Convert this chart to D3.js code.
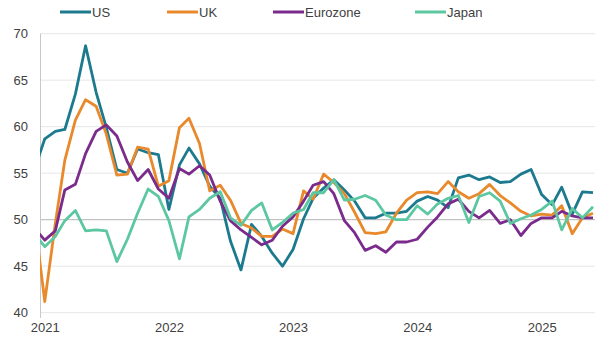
<!DOCTYPE html>
<html>
<head>
<meta charset="utf-8">
<script src="https://cdn.jsdelivr.net/npm/d3@7"></script>
<style>
  body { margin: 0; background: #fff; }
  svg { display: block; font-family: "Liberation Sans", Arial, sans-serif; }
</style>
</head>
<body>
<div id="chart"></div>
<script>
// monthly composite PMI, Dec 2020 .. Jun 2025
var startMonth = "2020-12";
var US = [55.3,
  58.7, 59.5, 59.7, 63.5, 68.7, 63.7, 59.9, 55.4, 55.0, 57.6, 57.2, 57.0,
  51.1, 55.9, 57.7, 56.0, 53.6, 52.3, 47.7, 44.6, 49.5, 48.2, 46.4, 45.0,
  46.8, 50.1, 52.3, 53.4, 54.3, 53.2, 52.0, 50.2, 50.2, 50.7, 50.7, 50.9,
  52.0, 52.5, 52.1, 51.3, 54.5, 54.8, 54.3, 54.6, 54.0, 54.1, 54.9, 55.4,
  52.7, 51.6, 53.5, 50.6, 53.0, 52.9];
var UK = [50.4,
  41.2, 49.6, 56.4, 60.7, 62.9, 62.2, 59.2, 54.8, 54.9, 57.8, 57.6, 53.6,
  54.2, 59.9, 60.9, 58.2, 53.1, 53.7, 52.1, 49.6, 49.1, 48.2, 48.2, 49.0,
  48.5, 53.1, 52.2, 54.9, 54.0, 52.8, 50.8, 48.6, 48.5, 48.7, 50.7, 52.1,
  52.9, 53.0, 52.8, 54.1, 53.0, 52.3, 52.8, 53.8, 52.6, 51.8, 50.9, 50.4,
  50.6, 50.5, 51.5, 48.5, 50.2, 50.7];
var Eurozone = [49.1,
  47.8, 48.8, 53.2, 53.8, 57.1, 59.5, 60.2, 59.0, 56.2, 54.2, 55.4, 53.3,
  52.3, 55.5, 54.9, 55.8, 54.8, 52.0, 49.9, 48.9, 48.1, 47.3, 47.8, 49.3,
  50.3, 52.0, 53.7, 54.1, 52.8, 49.9, 48.6, 46.7, 47.2, 46.5, 47.6, 47.6,
  47.9, 49.2, 50.3, 51.7, 52.2, 50.9, 50.2, 51.0, 49.6, 50.0, 48.3, 49.6,
  50.2, 50.2, 50.9, 50.4, 50.2, 50.2];
var Japan = [48.5,
  47.1, 48.2, 49.9, 51.0, 48.8, 48.9, 48.8, 45.5, 47.9, 50.7, 53.3, 52.5,
  49.9, 45.8, 50.3, 51.1, 52.3, 53.0, 50.2, 49.4, 51.0, 51.8, 48.9, 49.7,
  50.7, 51.1, 52.9, 52.9, 54.3, 52.1, 52.2, 52.6, 52.1, 50.5, 50.0, 50.0,
  51.5, 50.6, 51.7, 52.3, 52.6, 49.7, 52.5, 52.9, 52.0, 49.6, 50.1, 50.5,
  51.1, 52.0, 48.9, 51.2, 50.2, 51.4];

var seriesNames = ["US", "UK", "Eurozone", "Japan"];
var seriesColors = ["#1c7a8e", "#e8892c", "#7a2b8c", "#5cc7a1"];
var yTicks = [40, 45, 50, 55, 60, 65, 70];
var xTickLabels = ["2021", "2022", "2023", "2024", "2025"];

var width = 600, height = 340;
var svg = d3.select("#chart").append("svg")
    .attr("width", width)
    .attr("height", height);

var parseMonth = d3.timeParse("%Y-%m");
var t0 = parseMonth(startMonth);
var dates = US.map(function(d, i){ return d3.timeMonth.offset(t0, i); });

// Jan 2021 sits a few px right of the axis; Dec 2020 is clipped
var x = d3.scaleTime()
    .domain([d3.timeDay.offset(parseMonth("2021-01"), -14), parseMonth("2025-06")])
    .range([40, 593]);
var y = d3.scaleLinear().domain([40, 70]).range([312.7, 33.7]);

// gridlines
svg.append("g").selectAll("line")
    .data(yTicks)
    .enter().append("line")
    .attr("x1", 40).attr("x2", 595)
    .attr("y1", function(d){ return y(d); })
    .attr("y2", function(d){ return y(d); })
    .attr("stroke", function(d){ return d == 50 ? "#b4b4b4" : "#e6e6e6"; })
    .attr("stroke-width", 1);

// y axis line
svg.append("line")
    .attr("x1", 40.5).attr("x2", 40.5)
    .attr("y1", y(70)).attr("y2", 318)
    .attr("stroke", "#c8c8c8");

// y labels
var yAxis = d3.axisLeft(y).tickValues(yTicks).tickSize(0).tickPadding(12);
var gy = svg.append("g").attr("transform", "translate(40,0)").call(yAxis);
gy.select(".domain").remove();
gy.selectAll("text").attr("font-size", 13).attr("fill", "#404040")
    .attr("font-family", "'Liberation Sans', Arial, sans-serif");

// x labels
var xAxis = d3.axisBottom(x)
    .tickValues(xTickLabels.map(function(s){ return parseMonth(s + "-01"); }))
    .tickFormat(d3.timeFormat("%Y"))
    .tickSize(0).tickPadding(10);
var gx = svg.append("g").attr("transform", "translate(0,313)").call(xAxis);
gx.select(".domain").remove();
gx.selectAll("text").attr("font-size", 13).attr("fill", "#404040")
    .attr("font-family", "'Liberation Sans', Arial, sans-serif");

// clip
svg.append("clipPath").attr("id", "plot")
  .append("rect").attr("x", 40).attr("y", 0).attr("width", 560).attr("height", 340);

var allSeries = [US, UK, Eurozone, Japan];
var line = d3.line()
    .x(function(d, i){ return x(dates[i]); })
    .y(function(d){ return y(d); });

var lines = svg.append("g").attr("clip-path", "url(#plot)");
for (var s = 0; s < allSeries.length; s++){
    lines.append("path")
        .attr("d", line(allSeries[s]))
        .attr("fill", "none")
        .attr("stroke", seriesColors[s])
        .attr("stroke-width", 2.8)
        .attr("stroke-linejoin", "round");
}

// legend
var legendX = [60, 167, 273, 415];
var legend = svg.append("g");
for (var k = 0; k < seriesNames.length; k++){
    legend.append("line")
        .attr("x1", legendX[k]).attr("x2", legendX[k] + 31)
        .attr("y1", 12).attr("y2", 12)
        .attr("stroke", seriesColors[k])
        .attr("stroke-width", 3);
    legend.append("text")
        .attr("x", legendX[k] + 32).attr("y", 16.5)
        .attr("font-size", 13).attr("fill", "#404040")
        .text(seriesNames[k]);
}
</script>
</body>
</html>
